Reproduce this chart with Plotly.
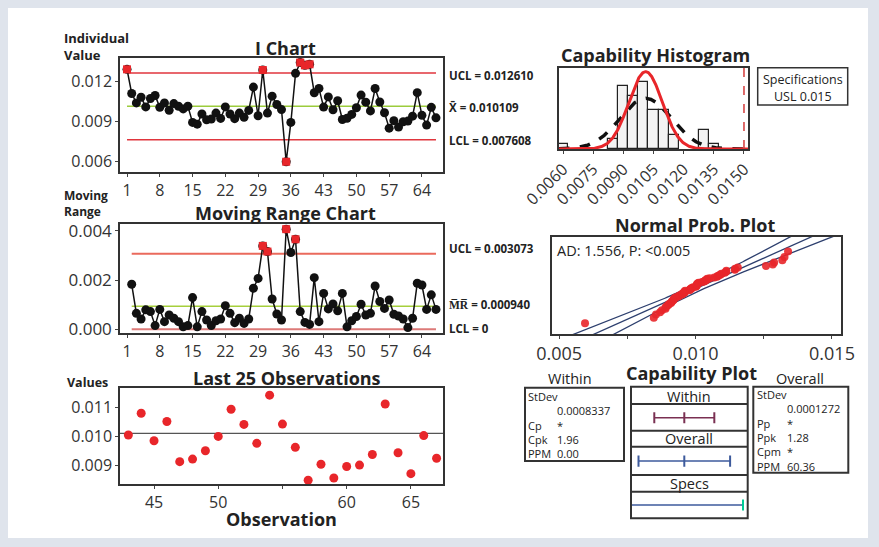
import plotly.graph_objects as go
from statistics import NormalDist

W, H = 879, 547
FONT = "Open Sans"

# ---------------- data ----------------
obs = list(range(1, 68))
ind_values = [0.01288, 0.01107, 0.01036, 0.01079, 0.01006, 0.01069, 0.01092, 0.01003, 0.01036, 0.00981,
              0.01031, 0.01011, 0.00991, 0.01011, 0.00890, 0.00877, 0.00953, 0.00910, 0.00915, 0.00960,
              0.00920, 0.01006, 0.00953, 0.00918, 0.00960, 0.00928, 0.00980, 0.01155, 0.00940, 0.01283,
              0.00960, 0.01087, 0.01024, 0.00986, 0.00595, 0.00890, 0.01258, 0.01339, 0.01318, 0.01326,
              0.01112, 0.01145, 0.01005, 0.01081, 0.00985, 0.01052, 0.00912, 0.00921, 0.00950, 0.01000,
              0.01095, 0.01042, 0.00976, 0.01144, 0.01043, 0.00962, 0.00847, 0.00903, 0.00855, 0.00895,
              0.00900, 0.00937, 0.01113, 0.00943, 0.00870, 0.01003, 0.00924]
mr_obs = list(range(2, 68))
mr_values = [0.00183, 0.00065, 0.00042, 0.00079, 0.00072, 0.00015, 0.00081, 0.00031, 0.00058, 0.00045,
             0.00031, 0.00010, 0.00015, 0.00129, 0.00010, 0.00072, 0.00038, 0.00015, 0.00035, 0.00042,
             0.00096, 0.00065, 0.00027, 0.00045, 0.00024, 0.00042, 0.00167, 0.00207, 0.00339, 0.00316,
             0.00123, 0.00062, 0.00038, 0.00407, 0.00312, 0.00366, 0.00072, 0.00028, 0.00020, 0.00210,
             0.00031, 0.00146, 0.00083, 0.00103, 0.00075, 0.00146, 0.00010, 0.00035, 0.00052, 0.00102,
             0.00058, 0.00065, 0.00176, 0.00113, 0.00085, 0.00119, 0.00061, 0.00054, 0.00042, 0.00007,
             0.00045, 0.00187, 0.00180, 0.00081, 0.00140, 0.00081]
i_red_obs = [1, 30, 35, 38, 39, 40]
mr_red_obs = [30, 31, 35, 37]

ucl_i, mean_i, lcl_i = 0.012610, 0.010109, 0.007608
ucl_mr, mean_mr, lcl_mr = 0.003073, 0.000940, 0.0
usl = 0.015
sd_within = 0.0008337
sd_overall = 0.001272

hist_mid = [0.0060, 0.0085, 0.0090, 0.0095, 0.0100, 0.0105, 0.0110, 0.0115, 0.0130, 0.0135]
hist_counts = [1, 2, 13, 11, 14, 8, 8, 3, 4, 1]
bin_w = 0.0005

NB = "\u00a0"
within_labels = ["StDev", NB, "Cp", "Cpk", "PPM"]
within_values = [NB, "0.0008337", "*", "1.96", "0.00"]
overall_labels = ["StDev", NB, "Pp", "Ppk", "Cpm", "PPM"]
overall_values = [NB, "0.0001272", "*", "1.28", "*", "60.36"]

last_n = 25
i_ticks = [1, 8, 15, 22, 29, 36, 43, 50, 57, 64]

# ---------------- helpers ----------------
def fx(p):
    return p / W

def fy(p):
    return 1 - p / H

RED = "#e8262a"
fig = go.Figure()

def add_line(xs, ys, color, width, xa, ya, dash=None):
    fig.add_trace(go.Scatter(x=xs, y=ys, mode="lines", line=dict(color=color, width=width, dash=dash),
                             xaxis=xa, yaxis=ya, hoverinfo="skip", showlegend=False))

# ---------------- I chart ----------------
add_line([1, 67], [ucl_i, ucl_i], "#e0353d", 1.5, "x", "y")
add_line([1, 67], [lcl_i, lcl_i], "#e0353d", 1.5, "x", "y")
add_line([1, 67], [mean_i, mean_i], "#9ccc3c", 1.5, "x", "y")
fig.add_trace(go.Scatter(x=obs, y=ind_values, mode="lines+markers", line=dict(color="#111", width=1.5),
                         marker=dict(color="#111", size=9), xaxis="x", yaxis="y", showlegend=False))
fig.add_trace(go.Scatter(x=i_red_obs, y=[ind_values[o - 1] for o in i_red_obs], mode="markers",
                         marker=dict(color=RED, size=8, symbol="square"),
                         xaxis="x", yaxis="y", showlegend=False, cliponaxis=False))

# ---------------- MR chart ----------------
add_line([2, 67], [ucl_mr, ucl_mr], "#ea6a5c", 2, "x2", "y2")
add_line([2, 67], [lcl_mr, lcl_mr], "#dd7a78", 2, "x2", "y2")
add_line([2, 67], [mean_mr, mean_mr], "#a6cf3c", 1.5, "x2", "y2")
fig.add_trace(go.Scatter(x=mr_obs, y=mr_values, mode="lines+markers", line=dict(color="#111", width=1.5),
                         marker=dict(color="#111", size=9), xaxis="x2", yaxis="y2", showlegend=False))
fig.add_trace(go.Scatter(x=mr_red_obs, y=[mr_values[o - 2] for o in mr_red_obs], mode="markers",
                         marker=dict(color=RED, size=8, symbol="square"),
                         xaxis="x2", yaxis="y2", showlegend=False, cliponaxis=False))

# ---------------- Last 25 ----------------
add_line([42.35, 67.5], [mean_i, mean_i], "#555", 1.3, "x3", "y3")
fig.add_trace(go.Scatter(x=obs[-last_n:], y=ind_values[-last_n:], mode="markers",
                         marker=dict(color=RED, size=9), xaxis="x3", yaxis="y3", showlegend=False))

# ---------------- Histogram ----------------
fig.add_trace(go.Bar(x=hist_mid, y=hist_counts, width=bin_w,
                     marker=dict(color="#f3f3f3", line=dict(color="#222", width=1.2)),
                     xaxis="x4", yaxis="y4", showlegend=False))
n = len(ind_values)
grid = [0.0058 + i * (0.0094 / 400) for i in range(401)]
nd_w = NormalDist(mean_i, sd_within)
nd_o = NormalDist(mean_i, sd_overall)
add_line(grid, [n * bin_w * nd_o.pdf(v) for v in grid], "#111", 3.5, "x4", "y4", dash="dash")
add_line(grid, [n * bin_w * nd_w.pdf(v) for v in grid], RED, 3, "x4", "y4")

# ---------------- Normal probability plot ----------------
sv = sorted(ind_values)
zq = [NormalDist().inv_cdf((i + 1 - 0.3) / (n + 0.4)) for i in range(n)]
zs = [-3.6 + i * 0.05 for i in range(145)]
fit = [mean_i + z * sd_overall for z in zs]
half = [1.96 * sd_overall * (1 / n + z * z / (2 * (n - 1))) ** 0.5 for z in zs]
for sign in (-1, 0, 1):
    add_line([f + sign * h for f, h in zip(fit, half)], zs, "#2d3f6e", 1.3, "x5", "y5")
fig.add_trace(go.Scatter(x=sv, y=zq, mode="markers", marker=dict(color=RED, size=8, opacity=0.9),
                         xaxis="x5", yaxis="y5", showlegend=False))

# ---------------- Capability plot ----------------
cap_lo, cap_hi = 0.005667, 0.015417
cy_w, cy_o, cy_s = 0.764, 0.435, 0.101
wx = [mean_i - 3 * sd_within, mean_i, mean_i + 3 * sd_within]
ox = [mean_i - 3 * sd_overall, mean_i, mean_i + 3 * sd_overall]
fig.add_trace(go.Scatter(x=wx, y=[cy_w] * 3, mode="lines+markers", line=dict(color="#7a3052", width=1.5),
                         marker=dict(symbol="line-ns-open", size=8, line=dict(color="#7a3052", width=2)),
                         xaxis="x6", yaxis="y6", showlegend=False))
fig.add_trace(go.Scatter(x=ox, y=[cy_o] * 3, mode="lines+markers", line=dict(color="#3d5a9c", width=1.5),
                         marker=dict(symbol="line-ns-open", size=8, line=dict(color=RED, width=2)),
                         xaxis="x6", yaxis="y6", showlegend=False))
fig.add_trace(go.Scatter(x=[cap_lo, usl], y=[cy_s] * 2, mode="lines", line=dict(color="#3d5a9c", width=1.5),
                         xaxis="x6", yaxis="y6", showlegend=False))
fig.add_trace(go.Scatter(x=[usl], y=[cy_s], mode="markers",
                         marker=dict(symbol="line-ns-open", size=8, line=dict(color=RED, width=2)),
                         xaxis="x6", yaxis="y6", showlegend=False))

# ---------------- axes ----------------
frame = dict(showline=True, mirror=True, linecolor="#333", linewidth=1.5, showgrid=False, zeroline=False,
             automargin=False)
tickf = dict(family=FONT, size=16, color="#333")

def dom_x(a, b):
    return [fx(a), fx(b)]

def dom_y(top, bot):
    return [fy(bot), fy(top)]

layout_axes = dict(
    xaxis=dict(domain=dom_x(120, 443), range=[-0.5, 68.5], tickvals=i_ticks, ticks="outside", ticklen=3,
               tickfont=tickf, anchor="y", **frame),
    yaxis=dict(domain=dom_y(58, 172), range=[0.00518, 0.01373], tickvals=[0.006, 0.009, 0.012],
               tickformat=".3f", ticks="outside", ticklen=3, tickfont=tickf, anchor="x", **frame),
    xaxis2=dict(domain=dom_x(120, 443), range=[-0.5, 68.5], tickvals=i_ticks, ticks="outside", ticklen=3,
                tickfont=tickf, anchor="y2", **frame),
    yaxis2=dict(domain=dom_y(224, 333), range=[-0.00015, 0.00428], tickvals=[0, 0.002, 0.004],
                tickformat=".3f", ticks="outside", ticklen=3, tickfont=dict(family=FONT, size=17, color="#333"),
                anchor="x2", **frame),
    xaxis3=dict(domain=dom_x(120, 443), range=[42.35, 67.5], tickvals=[45, 50, 55, 60, 65],
                ticktext=["45", "50", "", "60", "65"], ticks="outside", ticklen=3, tickfont=tickf,
                anchor="y3", **frame),
    yaxis3=dict(domain=dom_y(388, 484), range=[0.00834, 0.01169], tickvals=[0.009, 0.010, 0.011],
                tickformat=".3f", ticks="outside", ticklen=3, tickfont=tickf, anchor="x3", **frame),
    xaxis4=dict(domain=dom_x(559, 748), range=[0.0058, 0.0152],
                tickvals=[0.006, 0.0075, 0.009, 0.0105, 0.012, 0.0135, 0.015], tickformat=".4f",
                tickangle=-45, ticks="outside", ticklen=3, tickfont=dict(family=FONT, size=16, color="#333"),
                anchor="y4", **frame),
    yaxis4=dict(domain=dom_y(68, 149), range=[0, 16.8], showticklabels=False, ticks="", anchor="x4", **frame),
    xaxis5=dict(domain=dom_x(552, 841), range=[0.00474, 0.01533],
                tickvals=[0.005, 0.0075, 0.010, 0.0125, 0.015], ticktext=["0.005", "", "0.010", "", "0.015"],
                ticks="outside", ticklen=3, tickfont=dict(family=FONT, size=18, color="#333"),
                anchor="y5", **frame),
    yaxis5=dict(domain=dom_y(237, 334), range=[-3.0, 3.24], showticklabels=False, ticks="", anchor="x5", **frame),
    xaxis6=dict(domain=dom_x(631, 748), range=[cap_lo, cap_hi], visible=False, anchor="y6", automargin=False),
    yaxis6=dict(domain=dom_y(386.7, 518.3), range=[0, 1], visible=False, anchor="x6", automargin=False),
)

# ---------------- shapes ----------------
shapes = [
    dict(type="rect", xref="paper", yref="paper", x0=fx(8), x1=fx(868), y0=fy(538), y1=fy(8),
         fillcolor="white", line=dict(width=0), layer="below"),
    dict(type="line", xref="x4", yref="paper", x0=usl, x1=usl, y0=fy(149), y1=fy(64),
         line=dict(color="#d43a3a", width=1.5, dash="dash")),
    dict(type="rect", xref="paper", yref="paper", x0=fx(757.7), x1=fx(847.7), y0=fy(105), y1=fy(67.7),
         line=dict(color="#333", width=1.5)),
    dict(type="rect", xref="paper", yref="paper", x0=fx(525), x1=fx(624), y0=fy(461), y1=fy(387.7),
         line=dict(color="#333", width=2)),
    dict(type="rect", xref="paper", yref="paper", x0=fx(753.3), x1=fx(848.3), y0=fy(472.7), y1=fy(386.7),
         line=dict(color="#333", width=2)),
    dict(type="rect", xref="paper", yref="paper", x0=fx(631), x1=fx(747.7), y0=fy(518.3), y1=fy(386.7),
         line=dict(color="#333", width=2)),
]
for yy in [404, 430.7, 446.7, 475, 491.7]:
    shapes.append(dict(type="line", xref="paper", yref="paper", x0=fx(631), x1=fx(747.7), y0=fy(yy), y1=fy(yy),
                       line=dict(color="#333", width=2)))

# ---------------- annotations ----------------
ann = []

def text(x, y, s, size=13, bold=False, xanchor="center", align="center", color="#222"):
    ann.append(dict(x=fx(x), y=fy(y), xref="paper", yref="paper", text=f"<b>{s}</b>" if bold else s,
                    showarrow=False, xanchor=xanchor, yanchor="middle", align=align, borderpad=0,
                    font=dict(family=FONT, size=size, color=color)))

text(63, 46, "Individual<br>Value", 13, True, "left", "left")
text(285, 48, "I Chart", 18, True)
text(448, 75, "UCL = 0.012610", 11.5, True, "left")
text(448, 108, "X\u0304 = 0.010109", 11.5, True, "left")
text(448, 140, "LCL = 0.007608", 11.5, True, "left")

text(63, 203, "Moving<br>Range", 12, True, "left", "left")
text(285, 213, "Moving Range Chart", 18, True)
text(448, 248, "UCL = 0.003073", 11.5, True, "left")
text(448, 305, "M\u0305R\u0305 = 0.000940", 11.5, True, "left")
text(448, 328, "LCL = 0", 11.5, True, "left")

text(66, 382, "Values", 12.5, True, "left")
text(287, 378, "Last 25 Observations", 18, True)
text(281, 519, "Observation", 18, True)

text(655, 55, "Capability Histogram", 18, True)
text(802.7, 80, "Specifications", 12.5)
text(802.7, 96, "USL 0.015", 12.5)

text(695, 225, "Normal Prob. Plot", 18, True)
text(556, 250, "AD: 1.556, P: <0.005", 14.5, False, "left")

text(691, 373, "Capability Plot", 18, True)
text(570, 378, "Within", 14.5)
text(800, 378, "Overall", 14.5)
text(689, 396, "Within", 14.5)
text(689, 438.5, "Overall", 14.5)
text(689, 483.5, "Specs", 14.5)

# stat boxes: one multi-line text per column
BS = 11
text(527, 425, "<br>".join(within_labels), BS, False, "left", "left")
text(556, 425, "<br>".join(within_values), BS, False, "left", "left")
text(756, 430.5, "<br>".join(overall_labels), BS, False, "left", "left")
text(786, 430.5, "<br>".join(overall_values), BS, False, "left", "left")

fig.update_layout(
    width=W, height=H, margin=dict(l=0, r=0, t=0, b=0, autoexpand=False),
    paper_bgcolor="#dfe4ec", plot_bgcolor="#fbfbfb",
    showlegend=False, shapes=shapes, annotations=ann, bargap=0,
    font=dict(family=FONT, color="#222"),
    **layout_axes,
)

fig.write_html("out.html", config={"displayModeBar": False},
               post_script="document.body.style.margin='0';document.body.style.overflow='hidden';")
